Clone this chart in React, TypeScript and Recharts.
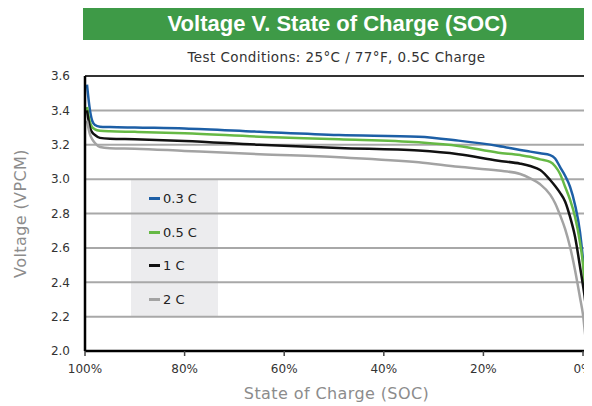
import {
  LineChart,
  Line,
  XAxis,
  YAxis,
  CartesianGrid,
  Legend,
  ReferenceLine,
} from "recharts";

// state of charge (%) sampled along the curves
const socPoints = [
  99.6, 99, 98.5, 98, 97, 95, 90, 80, 65, 49, 33, 25, 17, 12.6, 10.6, 8.6, 6.6,
  5.6, 4.6, 3.6, 2.6, 1.6, 0.6, 0, -0.5, -1,
];

// volts per cell at each SOC point
const volts03C = [
  3.55, 3.4, 3.335, 3.315, 3.305, 3.303, 3.3, 3.295, 3.276, 3.257, 3.247, 3.224,
  3.193, 3.17, 3.16, 3.15, 3.14, 3.12, 3.07, 3.02, 2.955, 2.85, 2.69, 2.53, 2.36,
  2.0,
];
const volts05C = [
  3.42, 3.33, 3.3, 3.29, 3.282, 3.278, 3.275, 3.267, 3.247, 3.232, 3.214, 3.193,
  3.154, 3.14, 3.13, 3.115, 3.1, 3.075, 3.03, 2.956, 2.88, 2.78, 2.63, 2.5, 2.3,
  2.05,
];
const volts1C = [
  3.4, 3.3, 3.27, 3.257, 3.24, 3.235, 3.232, 3.222, 3.2, 3.181, 3.166, 3.145,
  3.107, 3.09, 3.076, 3.053, 2.995, 2.96, 2.92, 2.87, 2.78, 2.665, 2.49, 2.38,
  2.27, 2.03,
];
const volts2C = [
  3.34, 3.26, 3.23, 3.21, 3.187, 3.18, 3.177, 3.164, 3.145, 3.127, 3.098, 3.072,
  3.05, 3.03, 3.005, 2.97, 2.91, 2.86, 2.79, 2.71, 2.605, 2.47, 2.31, 2.21, 2.08,
  2.0,
];

const seriesNames = ["0.3 C", "0.5 C", "1 C", "2 C"];
const seriesColors = ["#1d5fa6", "#66b945", "#111111", "#a3a3a3"];

const xTicks = [100, 80, 60, 40, 20, 0];
const yTicks = [2.0, 2.2, 2.4, 2.6, 2.8, 3.0, 3.2, 3.4, 3.6];

const data = socPoints.map((soc, i) => ({
  soc,
  c03: volts03C[i],
  c05: volts05C[i],
  c1: volts1C[i],
  c2: volts2C[i],
}));
const keys = ["c03", "c05", "c1", "c2"];

const tickFont = { fontFamily: "DejaVu Sans", fontSize: 12, fill: "#333" };
const labelFont = {
  fontFamily: "DejaVu Sans",
  fontSize: 16,
  fill: "#8c8c8c",
  letterSpacing: 0.4,
};

function LegendBox(props: any) {
  const items = props.payload || [];
  return (
    <div
      style={{
        background: "#ececee",
        width: 87,
        height: 137,
        paddingTop: 2,
        boxSizing: "border-box",
        fontFamily: "DejaVu Sans",
        fontSize: 13,
        color: "#222",
      }}
    >
      {items.map((it: any) => (
        <div
          key={it.value}
          style={{ height: 33.5, display: "flex", alignItems: "center" }}
        >
          <span
            style={{
              display: "inline-block",
              width: 11,
              height: 3,
              marginLeft: 18,
              marginRight: 3,
              background: it.color,
            }}
          />
          <span>{it.value}</span>
        </div>
      ))}
    </div>
  );
}

export default function App() {
  return (
    <div style={{ position: "relative", width: 584, height: 398 }}>
      <div
        style={{
          position: "absolute",
          left: 75,
          top: 0,
          width: 509,
          height: 32,
          background: "#3e9a47",
          color: "#fff",
          fontFamily: "Liberation Sans",
          fontWeight: "bold",
          fontSize: 22,
          lineHeight: "32px",
          textAlign: "center",
        }}
      >
        Voltage V. State of Charge (SOC)
      </div>
      <div
        style={{
          position: "absolute",
          left: 77,
          top: 40,
          width: 503,
          height: 18,
          lineHeight: "18px",
          fontFamily: "DejaVu Sans",
          fontSize: 13.5,
          letterSpacing: 0.4,
          color: "#333",
          textAlign: "center",
        }}
      >
        Test Conditions: 25°C / 77°F, 0.5C Charge
      </div>
      <LineChart
        width={584}
        height={398}
        data={data}
        margin={{ top: 68, right: 4, bottom: 0, left: 0 }}
      >
        <CartesianGrid vertical={false} stroke="#a8a8a8" strokeWidth={2} />
        <XAxis
          dataKey="soc"
          type="number"
          domain={[-1, 100]}
          reversed
          ticks={xTicks}
          tickFormatter={(v) => `${v}%`}
          height={55}
          tick={tickFont}
          tickSize={5}
          tickMargin={8}
          tickLine={{ stroke: "#444", strokeWidth: 1.5 }}
          axisLine={{ stroke: "#000", strokeWidth: 2.5 }}
          allowDataOverflow
          label={{
            value: "State of Charge (SOC)",
            position: "insideBottom",
            offset: 7,
            style: labelFont,
          }}
        />
        <YAxis
          type="number"
          domain={[2.0, 3.6]}
          ticks={yTicks}
          tickFormatter={(v) => v.toFixed(1)}
          width={77}
          tick={tickFont}
          tickSize={0}
          tickMargin={15}
          tickLine={false}
          axisLine={{ stroke: "#000", strokeWidth: 2.5 }}
          allowDataOverflow
          label={{
            value: "Voltage (VPCM)",
            angle: -90,
            position: "insideLeft",
            offset: 12,
            style: { ...labelFont, textAnchor: "middle" },
          }}
        />
        <ReferenceLine y={3.6} stroke="#333" strokeWidth={2} />
        <ReferenceLine x={-1} stroke="#333" strokeWidth={2} />
        <Legend
          layout="vertical"
          align="center"
          verticalAlign="middle"
          content={<LegendBox />}
          wrapperStyle={{
            left: 123,
            top: 172,
            width: 87,
            height: 137,
            zIndex: -1,
          }}
        />
        {keys.map((k, i) => (
          <Line
            key={k}
            type="monotone"
            dataKey={k}
            name={seriesNames[i]}
            stroke={seriesColors[i]}
            strokeWidth={2.5}
            dot={false}
            activeDot={false}
            isAnimationActive={false}
          />
        ))}
      </LineChart>
    </div>
  );
}
